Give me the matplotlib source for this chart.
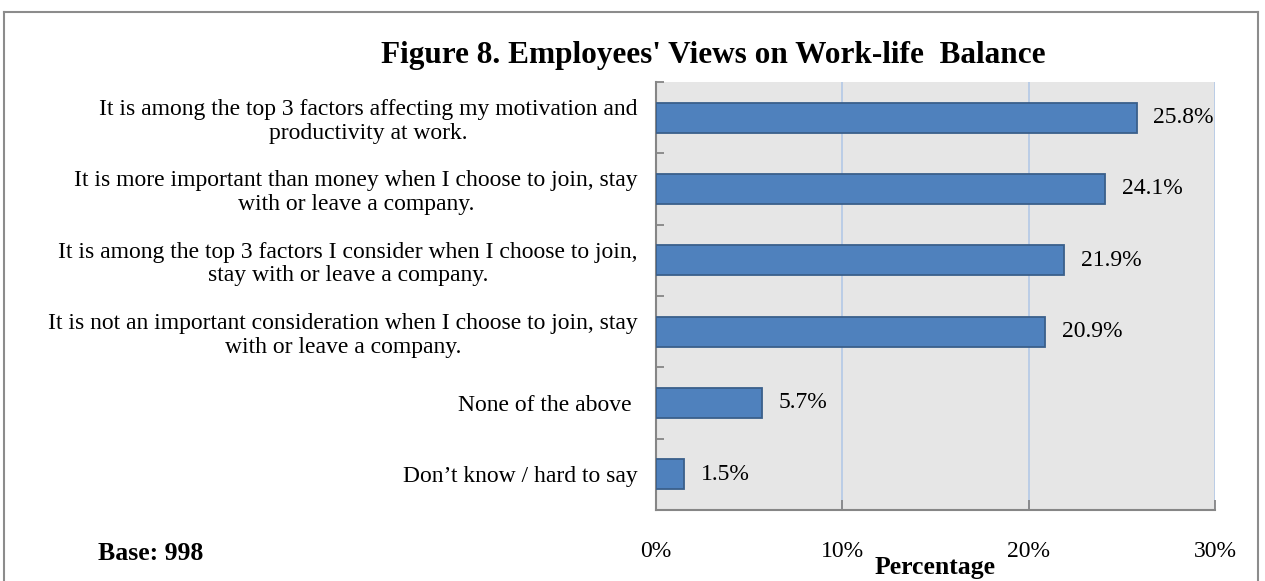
import matplotlib.pyplot as plt
from matplotlib.lines import Line2D
from matplotlib.ticker import MultipleLocator, FixedLocator, PercentFormatter

categories = [
    "It is among the top 3 factors affecting my motivation and\nproductivity at work.",
    "It is more important than money when I choose to join, stay\nwith or leave a company.",
    "It is among the top 3 factors I consider when I choose to join,\nstay with or leave a company.",
    "It is not an important consideration when I choose to join, stay\nwith or leave a company.",
    "None of the above ",
    "Don\u2019t know / hard to say",
]
values = [25.8, 24.1, 21.9, 20.9, 5.7, 1.5]
value_labels = ["25.8%", "24.1%", "21.9%", "20.9%", "5.7%", "1.5%"]

plt.rcParams["font.family"] = "Liberation Serif"
plt.rcParams["font.size"] = 17

fig = plt.figure(figsize=(12.65, 5.81), dpi=100)
ax = fig.add_axes([0.5186, 0.1222, 0.4419, 0.7367])

bar_color = '#4F81BD'
edge_color = '#3A5F8B'
axis_gray = '#868686'

ypos = list(range(len(values)))
ax.barh(ypos, values, height=0.42, color=bar_color, edgecolor=edge_color, linewidth=1.3, zorder=3)

for y, v, lab in zip(ypos, values, value_labels):
    ax.annotate(lab, xy=(v, y), xytext=(12, 0), textcoords='offset points',
                ha='left', va='center', fontsize=17)

ax.set_xlim(0, 30)
ax.set_ylim(len(values) - 0.5, -0.5)
ax.set_facecolor('#E6E6E6')

ax.xaxis.set_major_locator(MultipleLocator(10))
ax.xaxis.set_major_formatter(PercentFormatter(decimals=0))
ax.grid(axis='x', color='#B3C8E6', linewidth=1.2, zorder=0)
ax.set_axisbelow(True)

ax.set_yticks(ypos)
ax.set_yticklabels(categories, multialignment='center', fontsize=17, linespacing=1.15)
ax.yaxis.set_minor_locator(FixedLocator([i + 0.5 for i in range(-1, len(values))]))
ax.tick_params(axis='y', which='major', length=0, pad=13)
ax.tick_params(axis='y', which='minor', direction='in', length=6, color=axis_gray, width=1.3)
ax.tick_params(axis='x', direction='in', length=7, color=axis_gray, width=1.3, pad=22, labelsize=17)

for side in ['top', 'right']:
    ax.spines[side].set_visible(False)
for side in ['left', 'bottom']:
    ax.spines[side].set_color(axis_gray)
    ax.spines[side].set_linewidth(1.5)

ax.set_xlabel("Percentage", fontweight='bold', fontsize=18.5, labelpad=-4)

fig.text(0.564, 0.905, "Figure 8. Employees' Views on Work-life  Balance",
         ha='center', va='center', fontsize=22.5, fontweight='bold')
fig.text(0.0775, 0.047, "Base: 998", ha='left', va='center', fontsize=18.5, fontweight='bold')

# chart border
frame_color = '#8C8C8C'
x0, x1, ytop = 4 / 1265, 1258 / 1265, 1 - 12 / 581
fig.add_artist(Line2D([x0, x0], [0, ytop], color=frame_color, lw=1.5))
fig.add_artist(Line2D([x0, x1], [ytop, ytop], color=frame_color, lw=1.5))
fig.add_artist(Line2D([x1, x1], [0, ytop], color=frame_color, lw=1.5))

plt.savefig('out.png', dpi=100)
